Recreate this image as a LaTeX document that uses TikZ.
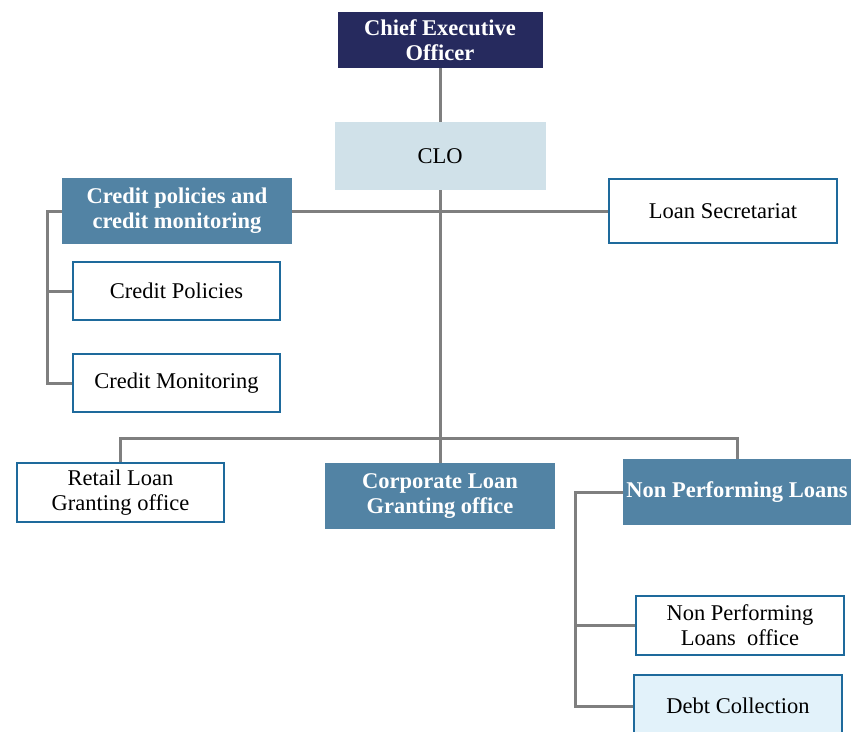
\documentclass[tikz,border=0pt]{standalone}
\usepackage{fontspec}
\setmainfont{Liberation Serif}
\usepackage{tikz}

\definecolor{ceoblue}{HTML}{262A5E}
\definecolor{cloblue}{HTML}{D0E1E9}
\definecolor{unitblue}{HTML}{5283A4}
\definecolor{edgeblue}{HTML}{1E6A9C}
\definecolor{debtblue}{HTML}{E2F2FA}
\definecolor{linkgray}{HTML}{7F7F7F}

\begin{document}
\begin{tikzpicture}[x=1pt,y=-1pt,font=\fontsize{22.5}{25}\selectfont,
  box/.style={inner sep=0pt,align=center},
  headbox/.style={box,fill=unitblue,text=white,font=\fontsize{22.5}{25}\selectfont\bfseries},
  subbox/.style={box,draw=edgeblue,line width=2.5pt,fill=white},
  link/.style={draw=linkgray,line width=3pt}]
  \useasboundingbox (0,0) rectangle (851,731);
  % top of the chart
  \node[headbox,fill=ceoblue,minimum width=205pt,minimum height=56pt] (ceo) at (440,40) {Chief Executive\\Officer};
  \node[box,fill=cloblue,minimum width=211pt,minimum height=68pt] (clo) at (440,156) {CLO};
  % second level
  \node[headbox,minimum width=230pt,minimum height=66pt] (cpm) at (177,211) {Credit policies and\\credit monitoring};
  \node[subbox,minimum width=228pt,minimum height=64pt] (sec) at (723,211) {Loan Secretariat};
  \node[subbox,minimum width=207pt,minimum height=58pt] (cpol) at (176.5,291) {Credit Policies};
  \node[subbox,minimum width=207pt,minimum height=58pt] (cmon) at (176.5,383) {Credit Monitoring};
  % granting offices
  \node[subbox,minimum width=207pt,minimum height=59pt] (retail) at (120.5,492.5) {Retail Loan\\Granting office};
  \node[headbox,minimum width=230pt,minimum height=66pt] (corp) at (440,496) {Corporate Loan\\Granting office};
  \node[headbox,minimum width=228pt,minimum height=66pt] (npl) at (737,492) {Non Performing Loans};
  \node[subbox,minimum width=208pt,minimum height=59pt] (npo) at (740,625.5) {Non Performing\\Loans\ \ office};
  \node[subbox,fill=debtblue,minimum width=208pt,minimum height=62pt] (debt) at (738,706) {Debt Collection};
  \coordinate (bar) at (440,438);
  % connectors
  \path[link] (ceo.south) -- (clo.north);
  \path[link] (clo.south) -- (corp.north);
  \path[link] (cpm.east) -- (sec.west);
  \path[link] (retail.north) |- (bar) -| (npl.north);
  \path[link] (cpm.west) -- ++(-14,0) coordinate (cb) |- (cmon.west);
  \path[link] (cpol.west) -- (cpol.west -| cb);
  \path[link] (npl.west) -- ++(-47,0) coordinate (nb) |- (debt.west);
  \path[link] (npo.west) -- (npo.west -| nb);
\end{tikzpicture}
\end{document}
